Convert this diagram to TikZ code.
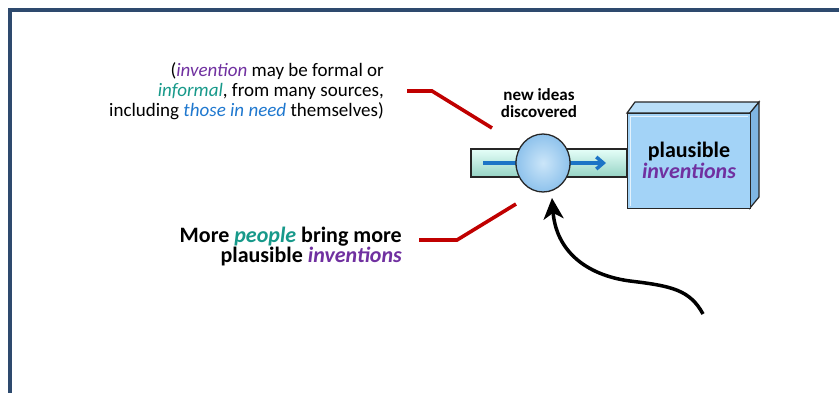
\documentclass[tikz,border=0pt]{standalone}
\usepackage{fontspec}
\setmainfont{Carlito}
\usetikzlibrary{arrows.meta,shapes.geometric}
\definecolor{frameblue}{HTML}{2E4A6E}
\definecolor{leadred}{HTML}{C00000}
\definecolor{ideapurple}{HTML}{7030A0}
\definecolor{ideateal}{HTML}{17998A}
\definecolor{ideablue}{HTML}{1F78CF}
\definecolor{boxfront}{HTML}{A3D3F7}
\definecolor{boxtop}{HTML}{B9DEF8}
\definecolor{boxside}{HTML}{7FB6E3}
\definecolor{tubelight}{HTML}{E6FFF9}
\definecolor{tubedark}{HTML}{95D3C4}
\definecolor{ballfill}{HTML}{A9D5F5}
\definecolor{ballrim}{HTML}{8EC2EC}
\definecolor{flowblue}{HTML}{1C74C6}
\tikzset{
  leader/.style={draw=leadred, line width=3.6pt},
  note/.style={inner sep=0pt, align=right, anchor=north east},
  outline/.style={draw=black!85, line width=1.3pt},
}
\begin{document}
\begin{tikzpicture}[x=1pt,y=-1pt]
\useasboundingbox (0,0) rectangle (839,392);
\fill[white] (0,0) rectangle (839,392);
% frame, only its top and left edges fall inside the page
\draw[frameblue, line width=4pt] (10,400) -- (10,10) -- (845,10);

% upper note
\node[note, font=\fontsize{19}{20}\selectfont] (topnote) at (384,62)
  {(\textcolor{ideapurple}{\itshape invention} may be formal or\\
   \textcolor{ideateal}{\itshape informal}, from many sources,\\
   including \textcolor{ideablue}{\itshape those in need} themselves)};

% lower note
\node[note, font=\fontsize{22}{20}\selectfont\bfseries] (lownote) at (402,227)
  {More \textcolor{ideateal}{\itshape people} bring more\\
   plausible \textcolor{ideapurple}{\itshape inventions}};

% pipe
\node[outline, top color=tubelight, bottom color=tubedark,
      minimum width=156pt, minimum height=28pt, inner sep=0pt]
  (tube) at (549,163) {};
\coordinate (flowstart) at (483,163);
\coordinate (flowend) at (606,163);
\draw[flowblue, line width=3.5pt, -{Straight Barb[length=7pt,width=12pt]}] (flowstart) -- (flowend);

% discovery ball
\node[outline, ellipse, minimum width=54pt, minimum height=58pt, inner sep=0pt,
      inner color=ballfill!60!white, outer color=ballrim] (ball) at (543,163) {};

\node[font=\fontsize{17}{17}\selectfont\bfseries, align=center, inner sep=0pt]
  (newideas) at (539,103) {new ideas\\discovered};

% inventions block
\coordinate (fa) at (627,113);
\coordinate (fb) at (750,113);
\coordinate (fc) at (750,208);
\coordinate (fd) at (627,208);
\coordinate (ba) at (635,102);
\coordinate (bb) at (759,102);
\coordinate (bc) at (759,197);
\fill[boxtop, draw=black!85, line width=1.2pt] (fa) -- (ba) -- (bb) -- (fb) -- cycle;
\fill[boxside, draw=black!85, line width=1.2pt] (fb) -- (bb) -- (bc) -- (fc) -- cycle;
\node[outline, fill=boxfront, minimum width=123pt, minimum height=95pt, inner sep=0pt,
      anchor=north west] (block) at (fa) {};
\draw[white!70!boxfront, line width=1pt] ([shift={(3,-3)}]block.south west) -- ([shift={(3,3)}]block.north west) -- ([shift={(-3,3)}]block.north east);
\node[font=\fontsize{22}{21}\selectfont\bfseries, align=center, inner sep=0pt]
  (blocklabel) at (689,160) {plausible\\\textcolor{ideapurple}{\itshape inventions}};

% leader lines
\coordinate (ta) at (407,91);
\coordinate (tb) at (432,91);
\coordinate (tc) at (492,128);
\draw[leader] (ta) -- (tb) -- (tc);
\coordinate (la) at (419,240);
\coordinate (lb) at (457,240);
\coordinate (lc) at (516,204);
\draw[leader] (la) -- (lb) -- (lc);

% incoming curved arrow
\coordinate (tail) at (703,314);
\coordinate (tip) at (552,198);
\draw[line width=3.5pt, -{Stealth[length=21pt,width=20pt,inset=6pt]}]
  (tail) .. controls (690,290) and (672,286) .. (630,281)
  .. controls (585,275) and (556,250) .. (tip);
\end{tikzpicture}
\end{document}
